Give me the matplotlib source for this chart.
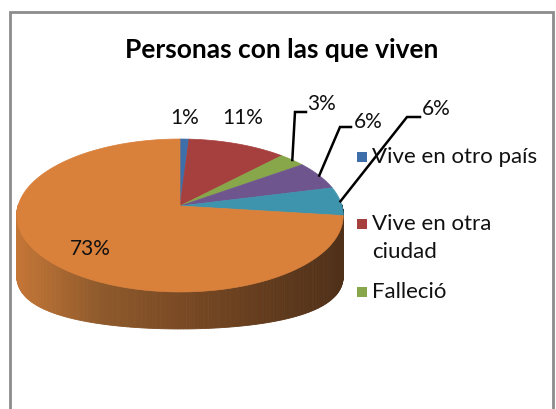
import numpy as np
import matplotlib.pyplot as plt
from matplotlib.patches import Polygon, Rectangle
from matplotlib.colors import to_rgb

# datos
valores = [1, 11, 3, 6, 6, 73]
etiquetas_pct = ['%d%%' % v for v in valores]
leyenda = ['Vive en otro país', 'Vive en otra\nciudad', 'Falleció']
colores = ['#3F6FAA', '#A6403F', '#88A64A', '#6F558E', '#3F94AD', '#D9803B']
titulo = 'Personas con las que viven'

plt.rcParams['font.family'] = ['Lato', 'DejaVu Sans']

fig = plt.figure(figsize=(5.56, 4.10), dpi=100)
ax = fig.add_axes([0, 0, 1, 1])
ax.set_xlim(0, 556)
ax.set_ylim(410, 0)
ax.axis('off')

# geometria del pastel 3D (en pixeles)
cx, cy = 180, 207
A, B, k = 162, 75.3, 0.124


def punto(t):
    s = 1.0 / (1 + k * np.sin(t))
    return cx + A * np.cos(t) * s, cy - B * np.sin(t) * s


def alto(t):
    return 37 + 24 * np.cos(t) ** 2


# angulos de cada porcion (sentido horario desde arriba)
frac = np.array(valores, dtype=float) / sum(valores)
bordes = np.pi / 2 - 2 * np.pi * np.concatenate([[0], np.cumsum(frac)])

# lateral con degradado
paradas_x = [18, 100, 180, 342]
paradas_c = ['#C47636', '#8F5A2C', '#7A4A24', '#4F3018']
pc = np.array([to_rgb(c) for c in paradas_c])


def color_lado(x, oscuro=None):
    c = np.array([np.interp(x, paradas_x, pc[:, i]) for i in range(3)])
    if oscuro is not None:
        base = np.array(to_rgb(oscuro))
        c = base * (c.sum() / pc[0].sum())
    return np.clip(c, 0, 1)


for i in range(len(valores)):
    t0, t1 = bordes[i], bordes[i + 1]
    ts = np.linspace(t1, t0, 300)
    for a, b in zip(ts[:-1], ts[1:]):
        # solo la parte frontal es visible
        if np.sin((a + b) / 2) > 0.02:
            continue
        xa, ya = punto(a)
        xb, yb = punto(b)
        quad = [(xa, ya), (xb, yb), (xb, yb + alto(b)), (xa, ya + alto(a))]
        col = color_lado((xa + xb) / 2, None if i == 5 else '#2E6E80')
        ax.add_patch(Polygon(quad, closed=True, facecolor=col,
                             edgecolor=col, lw=0.6, zorder=2))

# cara superior
for i in range(len(valores)):
    ts = np.linspace(bordes[i], bordes[i + 1], 200)
    xs, ys = punto(ts)
    pts = [(cx, cy)] + list(zip(xs, ys))
    ax.add_patch(Polygon(pts, closed=True, facecolor=colores[i],
                         edgecolor=colores[i], lw=0.5, zorder=3))

# etiquetas de porcentaje
pos_etq = [(185, 118), (243, 118), (322, 104), (368, 122), (436, 109)]
codos = [None, None, (295, 113), (340, 128), (407, 118)]
fin_codo = [None, None, 306, 351, 420]
for i in range(5):
    ax.text(pos_etq[i][0], pos_etq[i][1], etiquetas_pct[i], fontsize=15,
            ha='center', va='center', color='#111111', zorder=5)
    if codos[i] is not None:
        tm = (bordes[i] + bordes[i + 1]) / 2
        px, py = punto(tm)
        ax.plot([px, codos[i][0], fin_codo[i]], [py, codos[i][1], codos[i][1]],
                color='black', lw=1.8, zorder=4, solid_joinstyle='miter')

ax.text(90, 249, etiquetas_pct[5], fontsize=15, ha='center', va='center',
        color='#111111', zorder=5)

# leyenda
ley_y = [158, 225, 293]
for i, lab in enumerate(leyenda):
    ax.add_patch(Rectangle((357, ley_y[i] - 5), 10, 10, facecolor=colores[i],
                           edgecolor='none', zorder=5))
    ax.text(372, ley_y[i] - 11, lab, fontsize=16, ha='left', va='top',
            color='#111111', linespacing=1.5, zorder=5)

# titulo
ax.text(282, 50, titulo, fontsize=19, fontweight='bold', ha='center',
        va='center', color='black')

# marco
ax.plot([10, 10, 553, 553], [412, 13, 13, 412], color='#8C8C8C', lw=2,
        solid_joinstyle='miter', zorder=6)

fig.savefig('out.png', dpi=100)
